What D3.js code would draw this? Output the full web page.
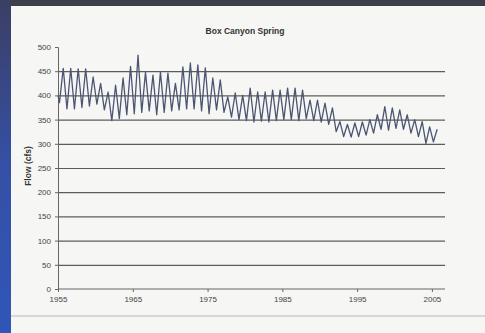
<!DOCTYPE html>
<html>
<head>
<meta charset="utf-8">
<script src="https://cdn.jsdelivr.net/npm/d3@7"></script>
<style>
  html, body { margin: 0; padding: 0; background: #f6f6f4; }
  svg { display: block; }
  text { font-family: "Liberation Sans", Arial, sans-serif; }
</style>
</head>
<body>
<svg id="chart" width="485" height="333"></svg>
<script>
// Box Canyon Spring discharge, cfs: one seasonal high and low per year
const years = d3.range(1955, 2006);
const annualHigh = [
  456, 456, 455, 455, 438, 425, 407, 421, 436, 460,
  483, 448, 442, 448, 446, 425, 459, 467, 463, 457,
  436, 432, 397, 405, 400, 415, 407, 407, 411, 411,
  415, 415, 411, 390, 390, 384, 374, 346, 340, 343,
  345, 350, 360, 377, 374, 370, 360, 350, 346, 335,
  330
];
const annualLow = [
  385, 372, 372, 375, 378, 382, 370, 348, 352, 360,
  362, 365, 368, 360, 365, 368, 370, 372, 372, 368,
  362, 370, 365, 355, 350, 348, 345, 347, 345, 348,
  350, 350, 348, 352, 348, 345, 340, 325, 315, 314,
  315, 318, 322, 330, 328, 332, 330, 322, 315, 301,
  304
];
const startFlow = 400;
const yTicks = d3.range(0, 501, 50);
const gridValues = d3.range(50, 451, 50);
const xTicks = [1955, 1965, 1975, 1985, 1995, 2005];
const titleText = "Box Canyon Spring";
const yTitle = "Flow (cfs)";

// Series: low early in each year, high later in the year
const series = [{ t: 1955, v: startFlow }];
years.forEach((yr, i) => {
  series.push({ t: yr + 0.2, v: annualLow[i] });
  series.push({ t: yr + 0.7, v: annualHigh[i] });
});

const svg = d3.select("#chart");

// Slide framing: dark band on top, blue strip on the left
svg.append("rect").attr("x", 0).attr("y", 0).attr("width", 485).attr("height", 333).attr("fill", "#f6f6f4");
const grad = svg.append("defs").append("linearGradient").attr("id", "side").attr("x1", 0).attr("y1", 0).attr("x2", 0).attr("y2", 1);
grad.append("stop").attr("offset", 0).attr("stop-color", "#3b3f63");
grad.append("stop").attr("offset", 0.5).attr("stop-color", "#3550a6");
grad.append("stop").attr("offset", 1).attr("stop-color", "#2f56b8");
svg.append("rect").attr("x", 0).attr("y", 0).attr("width", 485).attr("height", 6).attr("fill", "#3c3e4a");
svg.append("rect").attr("x", 0).attr("y", 0).attr("width", 11).attr("height", 333).attr("fill", "url(#side)");
svg.append("line").attr("x1", 11).attr("x2", 485).attr("y1", 316).attr("y2", 316)
  .attr("stroke", "#b8b8b8").attr("stroke-width", 1);

const x = d3.scaleLinear().domain([1955, 2006.75]).range([58, 445]);
const y = d3.scaleLinear().domain([0, 500]).range([289, 47]);

// Horizontal gridlines
svg.append("g")
  .attr("transform", `translate(${x(1955)},0)`)
  .call(d3.axisLeft(y).tickValues(gridValues).tickSize(-(x.range()[1] - x.range()[0])).tickFormat(""))
  .call(g => g.select(".domain").remove())
  .call(g => g.selectAll("line").attr("stroke", "#5c5c5c").attr("stroke-width", 1.2));

// Y axis
svg.append("g")
  .attr("transform", `translate(${x(1955)},0)`)
  .call(d3.axisLeft(y).tickValues(yTicks).tickSize(3).tickPadding(4))
  .call(g => g.select(".domain").attr("stroke", "#666"))
  .call(g => g.selectAll("line").attr("stroke", "#666"))
  .call(g => g.selectAll("text").attr("font-size", 8).attr("fill", "#444"));

// X axis
svg.append("g")
  .attr("transform", `translate(0,${y(0)})`)
  .call(d3.axisBottom(x).tickValues(xTicks).tickFormat(d3.format("d")).tickSize(3).tickPadding(4))
  .call(g => g.select(".domain").attr("stroke", "#666").attr("d", `M${x.range()[0]},0H${x.range()[1]}`))
  .call(g => g.selectAll("line").attr("stroke", "#666"))
  .call(g => g.selectAll("text").attr("font-size", 8).attr("fill", "#444"));

// Flow line
const line = d3.line().x(d => x(d.t)).y(d => y(d.v));
svg.append("path")
  .datum(series)
  .attr("d", line)
  .attr("fill", "none")
  .attr("stroke", "#4c5572")
  .attr("stroke-width", 1.3)
  .attr("stroke-linejoin", "round");

// Titles
svg.append("text")
  .attr("x", 245).attr("y", 34)
  .attr("text-anchor", "middle")
  .attr("font-size", 8.5).attr("font-weight", "bold").attr("fill", "#333")
  .text(titleText);

svg.append("text")
  .attr("transform", "translate(31,166) rotate(-90)")
  .attr("text-anchor", "middle")
  .attr("font-size", 8.5).attr("font-weight", "bold").attr("fill", "#333")
  .text(yTitle);
</script>
</body>
</html>
